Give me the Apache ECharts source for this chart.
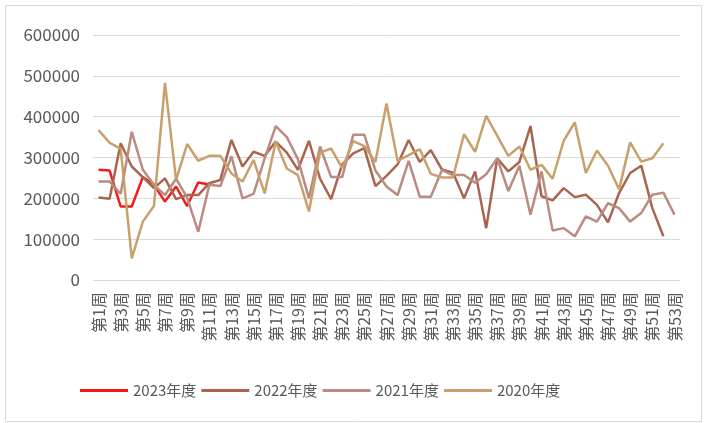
<!DOCTYPE html>
<html>
<head>
<meta charset="utf-8">
<script src="https://cdn.jsdelivr.net/npm/echarts@6/dist/echarts.min.js"></script>
<style>
  html, body { margin: 0; padding: 0; background: #fff; }
  #weekly { width: 705px; height: 423px; }
</style>
</head>
<body>
<div id="weekly"></div>
<script>
const weeks = [];
for (let i = 1; i <= 53; i++) weeks.push("第" + i + "周");

const yTicks = [0, 100000, 200000, 300000, 400000, 500000, 600000];

const sales2023 = [270000, 268000, 180000, 180000, 252000, 233000, 192000, 229000, 181000, 239000, 234000];

const sales2022 = [202000, 199000, 335000, 278000, 252000, 225000, 249000, 198000, 208000, 208000,
  237000, 245000, 343000, 278000, 314000, 304000, 339000, 312000, 270000, 341000,
  248000, 198000, 283000, 310000, 323000, 230000, 255000, 283000, 343000, 289000,
  318000, 271000, 263000, 200000, 266000, 127000, 298000, 266000, 289000, 377000,
  205000, 195000, 225000, 203000, 209000, 184000, 141000, 213000, 262000, 280000,
  176000, 107000];

const sales2021 = [241000, 241000, 211000, 363000, 270000, 233000, 208000, 248000, 202000, 118000,
  233000, 230000, 303000, 200000, 211000, 298000, 377000, 350000, 296000, 200000,
  327000, 252000, 252000, 356000, 356000, 268000, 229000, 208000, 292000, 204000,
  204000, 269000, 257000, 257000, 238000, 259000, 298000, 218000, 280000, 160000,
  266000, 121000, 127000, 107000, 156000, 143000, 188000, 176000, 143000, 164000,
  209000, 214000, 160000];

const sales2020 = [367000, 336000, 322000, 53000, 143000, 181000, 483000, 245000, 333000, 292000,
  304000, 304000, 261000, 241000, 294000, 212000, 339000, 273000, 257000, 168000,
  312000, 322000, 274000, 340000, 328000, 289000, 432000, 292000, 306000, 320000,
  260000, 251000, 251000, 357000, 314000, 402000, 353000, 304000, 327000, 270000,
  282000, 248000, 341000, 386000, 262000, 317000, 280000, 222000, 337000, 290000,
  298000, 335000];

const seriesNames = ["2023年度", "2022年度", "2021年度", "2020年度"];
const seriesColors = ["#ee1c1c", "#a8654f", "#bb8b81", "#c9a06c"];

const font = "'Noto Sans CJK SC', sans-serif";

function lineSeries(idx, values) {
  return {
    name: seriesNames[idx],
    type: "line",
    data: values,
    symbol: "none",
    lineStyle: { width: 2.5, color: seriesColors[idx] },
    itemStyle: { color: seriesColors[idx] },
  };
}

function initWeekly() {
  const chart = echarts.init(document.getElementById("weekly"));
  chart.setOption({
    animation: false,
    graphic: [
      {
        type: "rect",
        shape: { x: 5.5, y: 5.5, width: 696, height: 416 },
        style: { fill: "none", stroke: "#d9d9d9", lineWidth: 1 },
        silent: true,
      },
    ],
    grid: { left: 93, right: 25, top: 35, bottom: 143 },
    legend: {
      data: seriesNames,
      icon: "rect",
      left: 75,
      top: 378,
      itemWidth: 48,
      itemHeight: 3,
      itemGap: 5,
      textStyle: { fontSize: 15, color: "#595959", fontFamily: font },
    },
    xAxis: {
      type: "category",
      data: weeks,
      boundaryGap: true,
      axisLine: { show: false },
      axisTick: { show: false },
      axisLabel: {
        rotate: 90,
        interval: 1,
        margin: 12,
        fontSize: 16,
        color: "#595959",
        fontFamily: font,
      },
    },
    yAxis: {
      type: "value",
      min: yTicks[0],
      max: yTicks[yTicks.length - 1],
      interval: 100000,
      axisLine: { show: false },
      axisTick: { show: false },
      splitLine: { lineStyle: { color: "#d9d9d9", width: 1 } },
      axisLabel: {
        margin: 13,
        fontSize: 17,
        color: "#595959",
        fontFamily: font,
        formatter: (v) => String(v),
      },
    },
    series: [
      lineSeries(0, sales2023),
      lineSeries(1, sales2022),
      lineSeries(2, sales2021),
      lineSeries(3, sales2020),
    ],
  });
}

initWeekly();
</script>
</body>
</html>
